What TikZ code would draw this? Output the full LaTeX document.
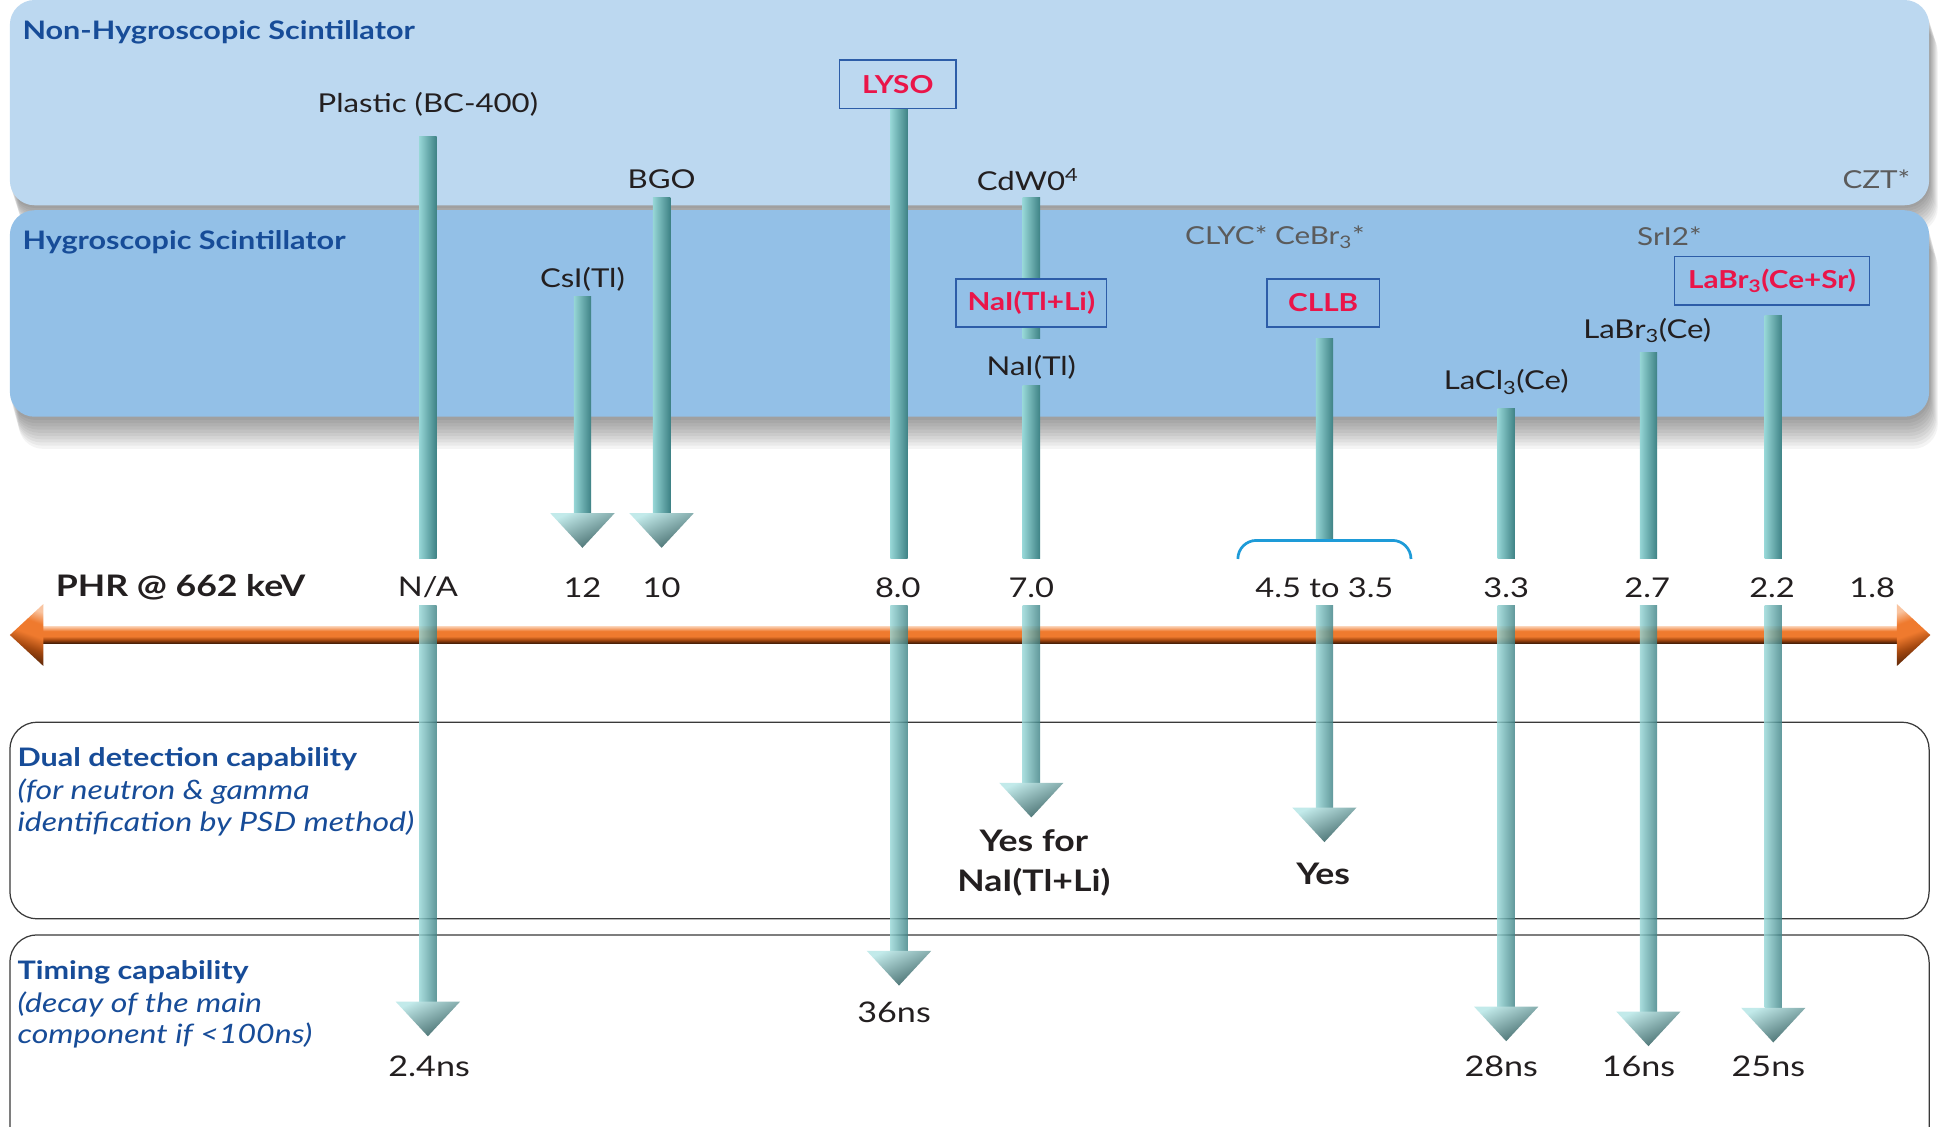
\documentclass[tikz,border=0pt]{standalone}
\usepackage{fontspec}
\setmainfont{Lato}[FakeStretch=1.2]
\usetikzlibrary{calc}
\definecolor{panelA}{HTML}{BCD8F0}
\definecolor{panelB}{HTML}{93C0E7}
\definecolor{titleblue}{HTML}{174C98}
\definecolor{crimson}{HTML}{EA1549}
\definecolor{boxblue}{HTML}{2D5DA8}
\definecolor{txt}{HTML}{231F20}
\definecolor{graytxt}{HTML}{5B5B5B}
\definecolor{tealL}{HTML}{96D6D6}
\definecolor{tealM}{HTML}{62BEC0}
\definecolor{tealD}{HTML}{3E8285}
\definecolor{tealHi}{HTML}{C2EAEA}
\definecolor{tealTip}{HTML}{3F6667}
\definecolor{orL}{HTML}{F9C4A0}
\definecolor{orM}{HTML}{EF7A2E}
\definecolor{orB}{HTML}{A3470F}
\definecolor{orD}{HTML}{4A1F07}
\definecolor{brk}{HTML}{1E9BD8}
\definecolor{framecol}{HTML}{3A3A3A}
\pgfdeclareverticalshading{orangeaxis}{100bp}{color(0bp)=(orD); color(25bp)=(orD); color(35bp)=(orB); color(46bp)=(orM); color(62bp)=(orM); color(75bp)=(orL); color(100bp)=(orL)}
\pgfdeclareverticalshading{orangehead}{100bp}{color(0bp)=(orD); color(25bp)=(orD); color(40bp)=(orB); color(52bp)=(orM); color(64bp)=(orM); color(75bp)=(orL); color(100bp)=(orL)}
\newcommand\tealbar[3][barfill]{\shade[#1] ($(#2)+(-7,0)$) rectangle ($(#3)+(7,0)$);}
\newcommand\tealhead[1]{\shade[headfill] (#1) -- ++(-26,-28) -- ++(52,0) -- cycle;}
\begin{document}
\begin{tikzpicture}[x=1pt,y=-1pt,
  txtnode/.style={inner sep=0pt,yshift=-2pt},
  lab/.style={txtnode,text=txt,font=\fontsize{21}{25}\selectfont},
  glab/.style={txtnode,text=graytxt,font=\fontsize{20}{24}\selectfont},
  val/.style={txtnode,text=txt,font=\fontsize{22}{26}\selectfont},
  ns/.style={txtnode,text=txt,font=\fontsize{23}{27}\selectfont},
  yesl/.style={txtnode,text=txt,align=center,font=\bfseries\fontsize{24}{32}\selectfont},
  redbox/.style={draw=boxblue,line width=1.1pt,text=crimson,inner sep=0pt,minimum height=39,font=\bfseries\fontsize{20}{24}\selectfont},
  title/.style={txtnode,anchor=west,text=titleblue,font=\bfseries\fontsize{20.6}{25}\selectfont},
  sub/.style={txtnode,anchor=west,text=titleblue,font=\itshape\fontsize{21.6}{25}\selectfont},
  barfill/.style={left color=tealL,middle color=tealM,right color=tealD},
  barfillT/.style={barfill,opacity=0.82},
  headfill/.style={top color=tealHi,middle color=tealM,bottom color=tealTip,shading angle=25},
  panelframe/.style={draw=framecol,line width=1pt,fill=white,rounded corners=22}
]
\useasboundingbox (0,0) rectangle (1568,911);
\clip (0,0) rectangle (1568,911);
\fill[white] (0,0) rectangle (1568,911);

% ---- upper panels with soft shadows
\foreach \k in {1,...,10}
  \fill[black,opacity=0.045,rounded corners=20] (8+0.7*\k,0+2.2*\k) rectangle (1560+0.7*\k,166+2.2*\k);
\fill[panelA,rounded corners=20] (8,0) rectangle (1560,166);
\foreach \k in {1,...,10}
  \fill[black,opacity=0.045,rounded corners=20] (8+0.7*\k,170+2.6*\k) rectangle (1560+0.7*\k,337+2.6*\k);
\fill[panelB,rounded corners=20] (8,170) rectangle (1560,337);

% ---- lower panels
\draw[panelframe] (8,584) rectangle (1560,743);
\draw[panelframe] (8,756) rectangle (1560,940);

% ---- PHR axis
\coordinate (axL) at (8,513.5);
\coordinate (axR) at (1561,513.5);
\shade[shading=orangeaxis] ($(axL)+(26,-6.5)$) rectangle ($(axR)+(-27,6.5)$);
\shade[shading=orangehead,shading angle=-20] (axL) -- ++(27,-25) -- ++(0,50) -- cycle;
\shade[shading=orangehead,shading angle=20] (axR) -- ++(-27,-25) -- ++(0,50) -- cycle;

% ---- titles
\node[title] (nonhyg) at (18,24) {Non-Hygroscopic Scintillator};
\node[title] (hyg) at (18,194) {Hygroscopic Scintillator};
\node[title] (dual) at (14,612) {Dual detection capability};
\node[sub] (dual2) at (14,638) {(for neutron \& gamma};
\node[sub] (dual3) at (14,664) {identification by PSD method)};
\node[title] (timing) at (14,784) {Timing capability};
\node[sub] (timing2) at (14,810) {(decay of the main};
\node[sub] (timing3) at (14,835) {component if <100ns)};

% ---- scintillator labels
\node[lab] (plastic) at (346,82) {Plastic (BC-400)};
\node[lab] (bgo) at (535,143) {BGO};
\node[lab] (csi) at (471,224) {CsI(Tl)};
\node[lab] (cdwo) at (831,143) {CdW0\textsuperscript{4}};
\node[lab] (nai) at (834,295) {NaI(Tl)};
\node[glab] (clyc) at (1031,190) {CLYC* CeBr\textsubscript{3}*};
\node[lab] (lacl) at (1218,307) {LaCl\textsubscript{3}(Ce)};
\node[glab] (sri) at (1350,189) {SrI2*};
\node[lab] (labr) at (1332,265) {LaBr\textsubscript{3}(Ce)};
\node[glab,anchor=east] (czt) at (1545,143) {CZT*};

% ---- axis values
\node[txtnode,text=txt,font=\bfseries\fontsize{24}{28}\selectfont] (phr) at (146,473) {PHR @ 662 keV};
\node[val] (na) at (346,473) {N/A};
\node[val] (v12) at (471,473) {12};
\node[val] (v10) at (535,473) {10};
\node[val] (v80) at (726,473) {8.0};
\node[val] (v70) at (834,473) {7.0};
\node[val] (v45) at (1071,473) {4.5 to 3.5};
\node[val] (v33) at (1218,473) {3.3};
\node[val] (v27) at (1332,473) {2.7};
\node[val] (v22) at (1433,473) {2.2};
\node[val] (v18) at (1514,473) {1.8};

% ---- results
\node[ns] (t24) at (347,860) {2.4ns};
\node[ns] (t36) at (723,817) {36ns};
\node[yesl] (yesfor) at (836,696) {Yes for\\NaI(Tl+Li)};
\node[yesl] (yes) at (1070,705) {Yes};
\node[ns] (t28) at (1214,860) {28ns};
\node[ns] (t16) at (1325,860) {16ns};
\node[ns] (t25) at (1430,860) {25ns};

% ---- bar coordinates
\coordinate (pl1) at (346,110); \coordinate (pl2) at (346,452);
\coordinate (pl3) at (346,490); \coordinate (pl4) at (346,812); \coordinate (plT) at (346,838);
\coordinate (cs1) at (471,240); \coordinate (cs2) at (471,416); \coordinate (csT) at (471,443);
\coordinate (bg1) at (535,160); \coordinate (bg2) at (535,416); \coordinate (bgT) at (535,443);
\coordinate (ly1) at (727,88); \coordinate (ly2) at (727,452);
\coordinate (ly3) at (727,490); \coordinate (ly4) at (727,770); \coordinate (lyT) at (727,797);
\coordinate (nl1) at (834,160); \coordinate (nl2) at (834,230);
\coordinate (nl3) at (834,262); \coordinate (nl4) at (834,274);
\coordinate (nl5) at (834,312); \coordinate (nl6) at (834,452);
\coordinate (nl7) at (834,490); \coordinate (nl8) at (834,634); \coordinate (nlT) at (834,661);
\coordinate (cl1) at (1071,274); \coordinate (cl2) at (1071,437);
\coordinate (cl3) at (1071,490); \coordinate (cl4) at (1071,654); \coordinate (clT) at (1071,681);
\coordinate (lc1) at (1218,330); \coordinate (lc2) at (1218,452);
\coordinate (lc3) at (1218,490); \coordinate (lc4) at (1218,815); \coordinate (lcT) at (1218,842);
\coordinate (lb1) at (1333,285); \coordinate (lb2) at (1333,452);
\coordinate (lb3) at (1333,490); \coordinate (lb4) at (1333,818); \coordinate (lbT) at (1333,846);
\coordinate (ls1) at (1434,255); \coordinate (ls2) at (1434,452);
\coordinate (ls3) at (1434,490); \coordinate (ls4) at (1434,815); \coordinate (lsT) at (1434,843);

% ---- bars and heads
\tealbar{pl1}{pl2} \tealbar[barfillT]{pl3}{pl4} \tealhead{plT}
\tealbar{cs1}{cs2} \tealhead{csT}
\tealbar{bg1}{bg2} \tealhead{bgT}
\tealbar{ly1}{ly2} \tealbar[barfillT]{ly3}{ly4} \tealhead{lyT}
\tealbar{nl1}{nl2} \tealbar{nl3}{nl4} \tealbar{nl5}{nl6} \tealbar[barfillT]{nl7}{nl8} \tealhead{nlT}
\tealbar{cl1}{cl2} \tealbar[barfillT]{cl3}{cl4} \tealhead{clT}
\tealbar{lc1}{lc2} \tealbar[barfillT]{lc3}{lc4} \tealhead{lcT}
\tealbar{lb1}{lb2} \tealbar[barfillT]{lb3}{lb4} \tealhead{lbT}
\tealbar{ls1}{ls2} \tealbar[barfillT]{ls3}{ls4} \tealhead{lsT}

% ---- bracket for CLLB range
\draw[brk,line width=2.2pt,rounded corners=15] ($(cl2)+(-70,15)$) -- ($(cl2)+(-70,0)$) -- ($(cl2)+(70,0)$) -- ($(cl2)+(70,15)$);

% ---- highlighted boxes
\node[redbox,fill=panelA,minimum width=94] (lyso) at (726,68) {LYSO};
\node[redbox,fill=panelB,minimum width=122] (naili) at (834,245) {NaI(Tl+Li)};
\node[redbox,fill=panelB,minimum width=91] (cllb) at (1070,245) {CLLB};
\node[redbox,fill=panelB,minimum width=158] (labrsr) at (1433,227) {LaBr\textsubscript{3}(Ce+Sr)};
\end{tikzpicture}
\end{document}
